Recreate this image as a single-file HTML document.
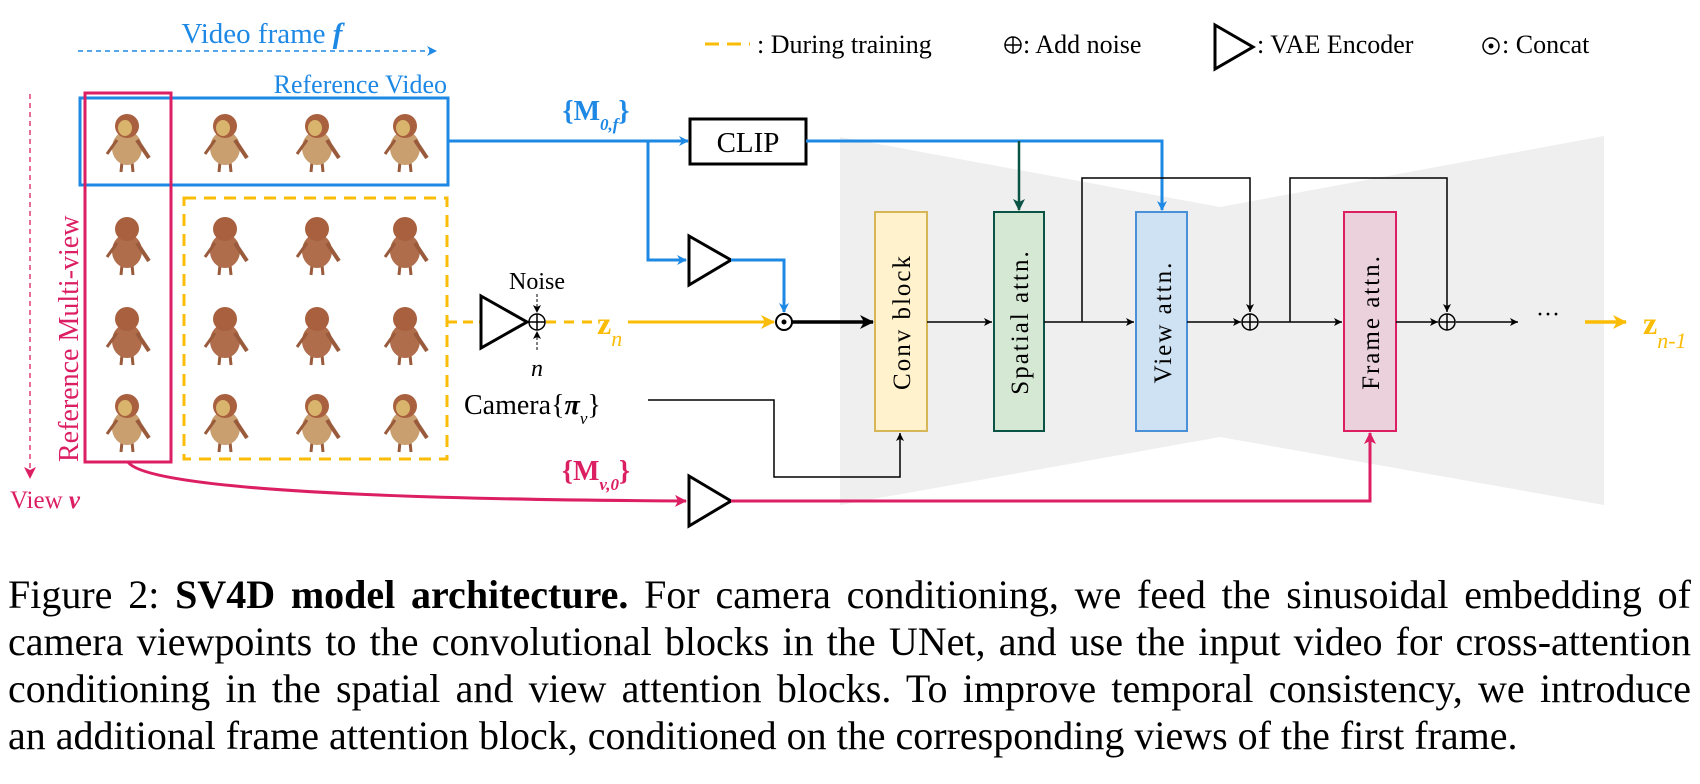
<!DOCTYPE html>
<html><head><meta charset="utf-8"><style>
body{margin:0;background:#fff;width:1700px;height:784px;overflow:hidden;position:relative}
svg{position:absolute;left:0;top:0}
.cap{position:absolute;left:8px;width:1683px;font-family:"Liberation Serif","DejaVu Serif",serif;font-size:40px;color:#000;white-space:nowrap;text-align:justify;text-align-last:justify;line-height:46px}
</style></head><body>
<svg width="1700" height="784" viewBox="0 0 1700 784" font-family="Liberation Serif, DejaVu Serif, serif">
<defs>
<marker id="ab" markerWidth="10" markerHeight="10" refX="9" refY="5" orient="auto" markerUnits="userSpaceOnUse" viewBox="0 0 10 10"><path d="M0,0 L10,5 L0,10 L3,5z" fill="#1e88e5"/></marker>
<marker id="ak" markerWidth="8" markerHeight="8" refX="8" refY="4" orient="auto" markerUnits="userSpaceOnUse" viewBox="0 0 8 8"><path d="M0,0 L8,4 L0,8 L2,4z" fill="#000"/></marker>
<marker id="akb" markerWidth="14" markerHeight="14" refX="13" refY="7" orient="auto" markerUnits="userSpaceOnUse" viewBox="0 0 14 14"><path d="M0,0 L14,7 L0,14 L4,7z" fill="#000"/></marker>
<marker id="ag" markerWidth="12" markerHeight="14" refX="11" refY="6" orient="auto" markerUnits="userSpaceOnUse" viewBox="0 0 12 12"><path d="M0,0 L12,6 L0,12 L3,6z" fill="#0b5345"/></marker>
<marker id="ay" markerWidth="14" markerHeight="14" refX="13" refY="7" orient="auto" markerUnits="userSpaceOnUse" viewBox="0 0 14 14"><path d="M0,0 L14,7 L0,14 L4,7z" fill="#fbbc05"/></marker>
<marker id="ap" markerWidth="12" markerHeight="12" refX="11" refY="6" orient="auto" markerUnits="userSpaceOnUse" viewBox="0 0 12 12"><path d="M0,0 L12,6 L0,12 L3,6z" fill="#dc1f63"/></marker>
<g id="fig"><line x1="-5" y1="20" x2="-6" y2="30" stroke="#9a5a3c" stroke-width="3"/><line x1="5" y1="20" x2="6" y2="30" stroke="#9a5a3c" stroke-width="3"/><ellipse cx="0" cy="6" rx="15" ry="17" fill="#b06d4b"/><circle cx="0" cy="-16" r="12" fill="#a8603f"/><line x1="10" y1="-2" x2="22" y2="16" stroke="#9a5a3c" stroke-width="4"/><line x1="-10" y1="-2" x2="-20" y2="12" stroke="#9a5a3c" stroke-width="3"/></g>
<g id="figt"><line x1="-5" y1="20" x2="-6" y2="30" stroke="#9a5a3c" stroke-width="3"/><line x1="5" y1="20" x2="6" y2="30" stroke="#9a5a3c" stroke-width="3"/><ellipse cx="0" cy="6" rx="15" ry="17" fill="#c99f70"/><circle cx="0" cy="-16" r="12" fill="#a8603f"/><ellipse cx="-2" cy="-14" rx="7" ry="8" fill="#d8b46c"/><line x1="10" y1="-2" x2="22" y2="16" stroke="#9a5a3c" stroke-width="4"/><line x1="-10" y1="-2" x2="-20" y2="12" stroke="#9a5a3c" stroke-width="3"/></g>
</defs>
<polygon points="840,137 1220,207 1604,136 1604,505 1220,437 840,505" fill="#efefef"/>
<text x="262" y="43" font-size="29" fill="#1e88e5" text-anchor="middle">Video frame <tspan font-style="italic" font-weight="bold">f</tspan></text>
<line x1="78" y1="51" x2="436" y2="51" stroke="#1e88e5" stroke-width="1.5" stroke-dasharray="5,4" marker-end="url(#ab)"/>
<line x1="705" y1="44" x2="750" y2="44" stroke="#fbbc05" stroke-width="3" stroke-dasharray="14,8"/>
<text x="757" y="53" font-size="26">: During training</text>
<circle cx="1013" cy="45" r="8" fill="none" stroke="#000" stroke-width="1.5"/><line x1="1005" y1="45" x2="1021" y2="45" stroke="#000" stroke-width="1.5"/><line x1="1013" y1="37" x2="1013" y2="53" stroke="#000" stroke-width="1.5"/>
<text x="1023" y="53" font-size="26">: Add noise</text>
<polygon points="1215,25 1253,47 1215,69" fill="none" stroke="#000" stroke-width="3"/>
<text x="1257" y="53" font-size="26">: VAE Encoder</text>
<circle cx="1491" cy="46" r="8" fill="none" stroke="#000" stroke-width="1.5"/><circle cx="1491" cy="46" r="2.5" fill="#000"/>
<text x="1502" y="53" font-size="26">: Concat</text>
<text x="447" y="93" font-size="26" fill="#1e88e5" text-anchor="end">Reference Video</text>
<line x1="30" y1="94" x2="30" y2="478" stroke="#dc1f63" stroke-width="1.3" stroke-dasharray="5,4" marker-end="url(#ap)"/>
<text x="10" y="508" font-size="25" fill="#dc1f63">View <tspan font-style="italic" font-weight="bold">v</tspan></text>
<text transform="translate(78,462) rotate(-90)" font-size="28" fill="#dc1f63">Reference Multi-view</text>
<use href="#figt" x="127" y="142"/><use href="#figt" x="225" y="142"/><use href="#figt" x="317" y="142"/><use href="#figt" x="405" y="142"/>
<use href="#fig" x="127" y="245"/><use href="#fig" x="225" y="245"/><use href="#fig" x="317" y="245"/><use href="#fig" x="405" y="245"/>
<use href="#fig" x="127" y="335"/><use href="#fig" x="225" y="335"/><use href="#fig" x="317" y="335"/><use href="#fig" x="405" y="335"/>
<use href="#figt" x="127" y="422"/><use href="#figt" x="225" y="422"/><use href="#figt" x="317" y="422"/><use href="#figt" x="405" y="422"/>
<rect x="80" y="98" width="368" height="87" fill="none" stroke="#1e88e5" stroke-width="3"/>
<rect x="85" y="93" width="86" height="369" fill="none" stroke="#dc1f63" stroke-width="3"/>
<rect x="184" y="198" width="263" height="261" fill="none" stroke="#fbbc05" stroke-width="3" stroke-dasharray="12,8"/>
<text x="596" y="120" font-size="28" fill="#1e88e5" font-weight="bold" text-anchor="middle">{M<tspan font-size="17" font-style="italic" dy="10">0,f</tspan><tspan dy="-10">}</tspan></text>
<line x1="448" y1="141" x2="688" y2="141" stroke="#1e88e5" stroke-width="3" marker-end="url(#ab)"/>
<polyline points="648,141 648,260 686,260" fill="none" stroke="#1e88e5" stroke-width="3" marker-end="url(#ab)"/>
<rect x="690" y="119" width="116" height="45" fill="#fff" stroke="#000" stroke-width="3"/>
<text x="748" y="152" font-size="29" text-anchor="middle">CLIP</text>
<polygon points="689,236 731,260 689,285" fill="#fff" stroke="#000" stroke-width="3"/>
<polyline points="731,260 784,260 784,312" fill="none" stroke="#1e88e5" stroke-width="3" marker-end="url(#ab)"/>
<polyline points="806,141 1162,141 1162,210" fill="none" stroke="#1e88e5" stroke-width="3" marker-end="url(#ab)"/>
<line x1="1019" y1="141" x2="1019" y2="210" stroke="#0b5345" stroke-width="2.5" marker-end="url(#ag)"/>
<line x1="447" y1="322" x2="480" y2="322" stroke="#fbbc05" stroke-width="3" stroke-dasharray="10,6"/>
<polygon points="481,296 527,322 481,348" fill="#fff" stroke="#000" stroke-width="3"/>
<circle cx="537" cy="322" r="8" fill="none" stroke="#000" stroke-width="1.5"/><line x1="529" y1="322" x2="545" y2="322" stroke="#000" stroke-width="1.5"/><line x1="537" y1="314" x2="537" y2="330" stroke="#000" stroke-width="1.5"/>
<text x="537" y="289" font-size="24" text-anchor="middle">Noise</text>
<line x1="537" y1="294" x2="537" y2="313" stroke="#000" stroke-width="1" stroke-dasharray="3,2" marker-end="url(#ak)"/>
<line x1="537" y1="350" x2="537" y2="331" stroke="#000" stroke-width="1" stroke-dasharray="3,2" marker-end="url(#ak)"/>
<text x="537" y="376" font-size="24" font-style="italic" text-anchor="middle">n</text>
<line x1="546" y1="322" x2="594" y2="322" stroke="#fbbc05" stroke-width="3" stroke-dasharray="10,8"/>
<text x="597" y="334" font-size="32" font-weight="bold" fill="#fbbc05">z<tspan font-size="22" font-style="italic" font-weight="normal" dy="12">n</tspan></text>
<line x1="628" y1="322" x2="774" y2="322" stroke="#fbbc05" stroke-width="3" marker-end="url(#ay)"/>
<circle cx="784" cy="322" r="8" fill="#fff" stroke="#000" stroke-width="2"/><circle cx="784" cy="322" r="2.5" fill="#000"/>
<line x1="792" y1="322" x2="873" y2="322" stroke="#000" stroke-width="3.5" marker-end="url(#akb)"/>
<rect x="875" y="212" width="52" height="219" fill="#fff2cc" stroke="#d6b656" stroke-width="2"/>
<rect x="994" y="212" width="50" height="219" fill="#d5e8d4" stroke="#0b5345" stroke-width="2"/>
<rect x="1136" y="212" width="51" height="219" fill="#cfe2f3" stroke="#4a90d9" stroke-width="2"/>
<rect x="1344" y="212" width="52" height="219" fill="#ead1dc" stroke="#dc1f63" stroke-width="2"/>
<text transform="translate(910,322) rotate(-90)" font-size="25" text-anchor="middle" letter-spacing="2">Conv block</text>
<text transform="translate(1028,322) rotate(-90)" font-size="25" text-anchor="middle" letter-spacing="2">Spatial attn.</text>
<text transform="translate(1171,322) rotate(-90)" font-size="25" text-anchor="middle" letter-spacing="2">View attn.</text>
<text transform="translate(1379,322) rotate(-90)" font-size="25" text-anchor="middle" letter-spacing="2">Frame attn.</text>
<g stroke="#000" stroke-width="1.5" fill="none">
<line x1="927" y1="322" x2="992" y2="322" marker-end="url(#ak)"/>
<line x1="1044" y1="322" x2="1134" y2="322" marker-end="url(#ak)"/>
<line x1="1187" y1="322" x2="1241" y2="322" marker-end="url(#ak)"/>
<line x1="1259" y1="322" x2="1342" y2="322" marker-end="url(#ak)"/>
<line x1="1396" y1="322" x2="1438" y2="322" marker-end="url(#ak)"/>
<line x1="1456" y1="322" x2="1518" y2="322" marker-end="url(#ak)"/>
<polyline points="1082,322 1082,178 1250,178 1250,312" marker-end="url(#ak)"/>
<polyline points="1290,322 1290,178 1447,178 1447,312" marker-end="url(#ak)"/>
<circle cx="1250" cy="322" r="8"/><line x1="1242" y1="322" x2="1258" y2="322"/><line x1="1250" y1="314" x2="1250" y2="330"/>
<circle cx="1447" cy="322" r="8"/><line x1="1439" y1="322" x2="1455" y2="322"/><line x1="1447" y1="314" x2="1447" y2="330"/>
<polyline points="648,400 774,400 774,477 900,477 900,433" marker-end="url(#ak)"/>
</g>
<text x="1548" y="322" font-size="24" text-anchor="middle">···</text>
<line x1="1585" y1="322" x2="1626" y2="322" stroke="#fbbc05" stroke-width="3.5" marker-end="url(#ay)"/>
<text x="1643" y="334" font-size="32" font-weight="bold" fill="#fbbc05">z<tspan font-size="22" font-style="italic" font-weight="normal" dy="14">n-1</tspan></text>
<text x="464" y="414" font-size="28">Camera{<tspan font-style="italic" font-weight="bold">π</tspan><tspan font-size="17" font-style="italic" dy="10">v</tspan><tspan dy="-10">}</tspan></text>
<text x="596" y="480" font-size="28" fill="#dc1f63" font-weight="bold" text-anchor="middle">{M<tspan font-size="17" font-style="italic" dy="10">v,0</tspan><tspan dy="-10">}</tspan></text>
<path d="M128,462 C150,495 500,500 686,501" fill="none" stroke="#dc1f63" stroke-width="3" marker-end="url(#ap)"/>
<polygon points="689,476 731,501 689,526" fill="#fff" stroke="#000" stroke-width="3"/>
<polyline points="731,501 1370,501 1370,433" fill="none" stroke="#dc1f63" stroke-width="3" marker-end="url(#ap)"/>
</svg>
<div class="cap" style="top:572px">Figure 2: <b>SV4D model architecture.</b> For camera conditioning, we feed the sinusoidal embedding of</div>
<div class="cap" style="top:619px">camera viewpoints to the convolutional blocks in the UNet, and use the input video for cross-attention</div>
<div class="cap" style="top:666px">conditioning in the spatial and view attention blocks. To improve temporal consistency, we introduce</div>
<div class="cap" style="top:713px;text-align-last:left">an additional frame attention block, conditioned on the corresponding views of the first frame.</div>
</body></html>
